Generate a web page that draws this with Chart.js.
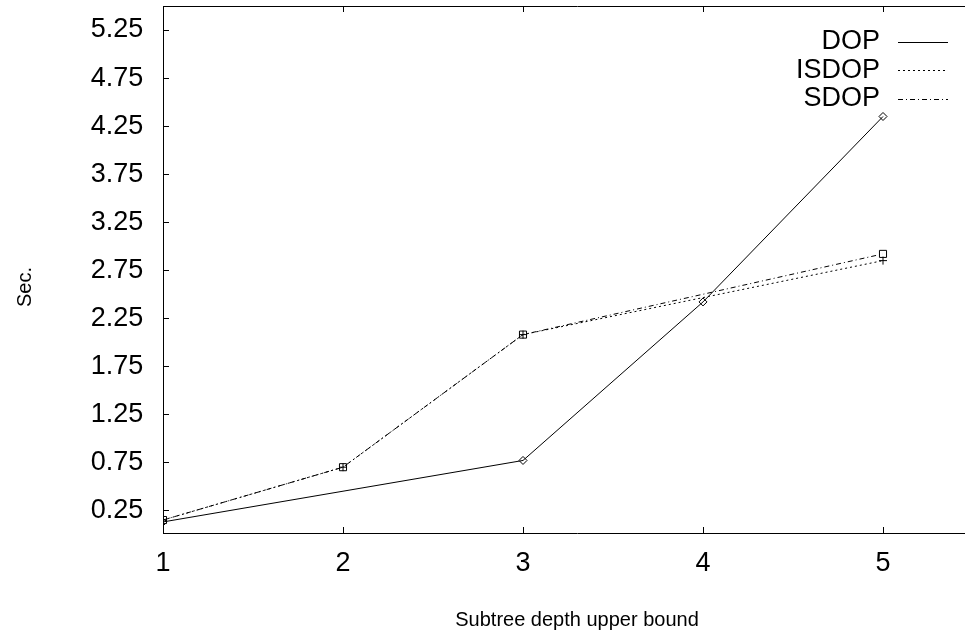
<!DOCTYPE html>
<html><head><meta charset="utf-8">
<script src="https://cdn.jsdelivr.net/npm/chart.js@4.4.0/dist/chart.umd.min.js"></script>
<style>html,body{margin:0;padding:0;overflow:hidden;background:#fff;width:965px;height:634px}
#wrap{position:absolute;left:0;top:0;width:1020px;height:634px}</style>
</head><body><div id="wrap"><canvas id="c" width="1020" height="634"></canvas></div>
<script>
const depths = [1, 2, 3, 4, 5];
const dopValues = [0.13, null, 0.77, 2.42, 4.35];
const isdopValues = [0.15, 0.70, 2.08, null, 2.85];
const sdopValues = [0.15, 0.70, 2.08, null, 2.92];
const seriesNames = ['DOP', 'ISDOP', 'SDOP'];
const xTickValues = [1, 2, 3, 4, 5];
const yTickValues = [0.25, 0.75, 1.25, 1.75, 2.25, 2.75, 3.25, 3.75, 4.25, 4.75, 5.25];
const xAxisTitle = 'Subtree depth upper bound';
const yAxisTitle = 'Sec.';

const FONT = 'Liberation Sans';
const FS = 27;
const TFS = 20;
function toPoints(vals) {
  const out = [];
  depths.forEach((d, i) => { if (vals[i] !== null) out.push({x: d, y: vals[i]}); });
  return out;
}
const setTicks = arr => s => { s.ticks = arr.map(v => ({value: v})); };
const noPad = s => { s.paddingTop = 0; s.paddingBottom = 0; s.paddingLeft = 0; s.paddingRight = 0; };

const keyPlugin = {
  id: 'gnuKey',
  afterDatasetsDraw(chart) {
    const ctx = chart.ctx;
    ctx.save();
    ctx.font = FS + 'px "' + FONT + '"';
    ctx.textAlign = 'right';
    ctx.textBaseline = 'middle';
    chart.data.datasets.forEach((ds, i) => {
      const y = 42 + i * 28.3;
      ctx.fillStyle = '#000';
      ctx.fillText(ds.label, 880, y);
      ctx.strokeStyle = ds.borderColor;
      ctx.lineWidth = 1;
      ctx.setLineDash(ds.borderDash || []);
      ctx.beginPath();
      ctx.moveTo(898, Math.round(y) + 0.5);
      ctx.lineTo(948, Math.round(y) + 0.5);
      ctx.stroke();
    });
    // y-axis title (placed as in the original, slightly below the plot centre)
    const ca = chart.chartArea;
    ctx.setLineDash([]);
    ctx.font = TFS + 'px "' + FONT + '"';
    ctx.textAlign = 'center';
    ctx.translate(25, (ca.top + ca.bottom) / 2 + 17.5);
    ctx.rotate(-Math.PI / 2);
    ctx.fillText(yAxisTitle, 0, 0);
    ctx.restore();
  }
};

const common = {borderColor: '#000', borderWidth: 1, pointBorderColor: '#000', pointBackgroundColor: 'rgba(0,0,0,0)', pointBorderWidth: 1, tension: 0, fill: false};

new Chart(document.getElementById('c'), {
  type: 'line',
  data: {
    datasets: [
      Object.assign({label: seriesNames[0], data: toPoints(dopValues), pointStyle: 'rectRot', pointRadius: 4}, common),
      Object.assign({label: seriesNames[1], data: toPoints(isdopValues), pointStyle: 'cross', pointRadius: 4, borderDash: [2, 3]}, common),
      Object.assign({label: seriesNames[2], data: toPoints(sdopValues), pointStyle: 'rect', pointRadius: 5, borderDash: [5, 3, 1, 3]}, common)
    ]
  },
  options: {
    responsive: false,
    animation: false,
    layout: {padding: {left: 0, top: 0, right: 29, bottom: 0}},
    plugins: {legend: {display: false}, tooltip: {enabled: false}},
    scales: {
      x: {
        type: 'linear', position: 'bottom', min: 1, max: 5.6,
        afterBuildTicks: setTicks(xTickValues),
        afterFit: s => { s.height = 101; noPad(s); },
        grid: {drawOnChartArea: false, tickLength: -6, color: '#000'},
        border: {color: '#000', width: 1},
        ticks: {color: '#000', font: {family: FONT, size: FS}, padding: 20, maxRotation: 0, autoSkip: false},
        title: {display: true, text: xAxisTitle, color: '#000', font: {family: FONT, size: TFS}, padding: {top: 0, bottom: 2}}
      },
      x2: {
        type: 'linear', position: 'top', min: 1, max: 5.6,
        afterBuildTicks: setTicks(xTickValues),
        afterFit: s => { s.height = 6; noPad(s); },
        grid: {drawOnChartArea: false, tickLength: -6, color: '#000'},
        border: {color: '#000', width: 1},
        ticks: {display: false}
      },
      y: {
        type: 'linear', position: 'left', min: 0.015, max: 5.5,
        afterBuildTicks: setTicks(yTickValues),
        afterFit: s => { s.width = 163; noPad(s); },
        grid: {drawOnChartArea: false, tickLength: -6, color: '#000'},
        border: {color: '#000', width: 1},
        ticks: {color: '#000', font: {family: FONT, size: FS}, padding: 25.7, callback: v => Number(v).toFixed(2)}
      }
    }
  },
  plugins: [keyPlugin]
});
</script></body></html>
